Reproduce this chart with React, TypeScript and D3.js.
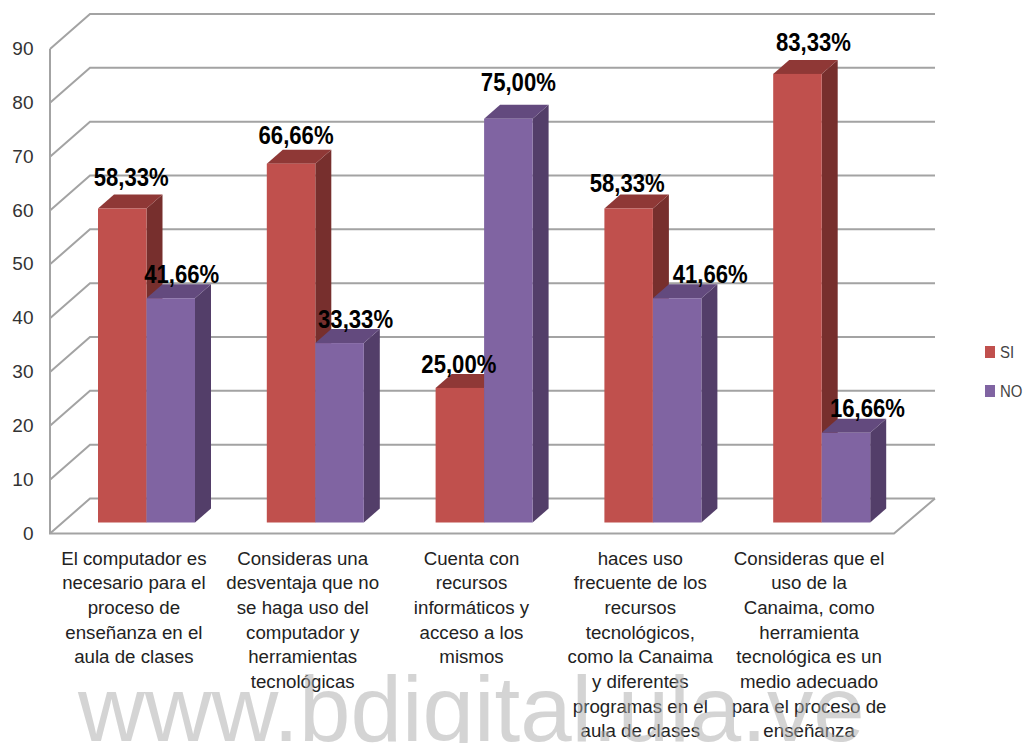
import React from 'react';
import * as d3 from 'd3';

const categories = [
  ['El computador es', 'necesario para el', 'proceso de', 'enseñanza en el', 'aula de clases'],
  ['Consideras una', 'desventaja que no', 'se haga uso del', 'computador y', 'herramientas', 'tecnológicas'],
  ['Cuenta con', 'recursos', 'informáticos y', 'acceso a los', 'mismos'],
  ['haces uso', 'frecuente de los', 'recursos', 'tecnológicos,', 'como la Canaima', 'y diferentes', 'programas en el', 'aula de clases'],
  ['Consideras que el', 'uso de la', 'Canaima, como', 'herramienta', 'tecnológica es un', 'medio adecuado', 'para el proceso de', 'enseñanza'],
];
const siValues = [58.33, 66.66, 25, 58.33, 83.33];
const noValues = [41.66, 33.33, 75, 41.66, 16.66];
const seriesNames = ['SI', 'NO'];
const ticks = [0, 10, 20, 30, 40, 50, 60, 70, 80, 90];

const palettes = [
  { front: '#C0504D', side: '#772F2D', top: '#8F3836' },
  { front: '#8064A2', side: '#533E69', top: '#634A7E' },
];
const GRID = '#A3A3A3';
const FONT = '"Liberation Sans", Arial, sans-serif';

// hand-placed data-label nudges of the original, per series then category
const labelNudgeX = [[9, 5, -1, -1.5, 16], [11, 16, 10, 33, 21.5]];
const labelNudgeY = [[22, 19, 14, 16, 22], [15, 15, 27, 15, 15]];

const fmt = (v: number) => v.toFixed(2).replace('.', ',') + '%';

export default function App() {
  const width = 1025;
  const height = 743;
  const x = d3.scaleBand<number>().domain(d3.range(5)).range([50, 894]);
  const y = d3.scaleLinear().domain([0, 90]).range([533.5, 49]);
  const wallDx = 40;
  const wallDy = 35;
  const barInsetX = 48;
  const barW = 48.5;
  const barFloorY = 11;
  const sideDx = 16;
  const sideDy = 14;
  const line = d3.line<[number, number]>();

  const bar = (cat: number, s: number, v: number) => {
    const x0 = (x(cat) as number) + barInsetX + s * barW;
    const x1 = x0 + barW;
    const yb = y(0) - barFloorY;
    const yt = y(v) - barFloorY;
    const p = palettes[s];
    return (
      <g key={`${cat}-${s}`}>
        <path d={line([[x1, yt], [x1 + sideDx, yt - sideDy], [x1 + sideDx, yb - sideDy], [x1, yb]]) + 'Z'} fill={p.side} />
        <path d={line([[x0, yt], [x0 + sideDx, yt - sideDy], [x1 + sideDx, yt - sideDy], [x1, yt]]) + 'Z'} fill={p.top} />
        <rect x={x0} y={yt} width={barW} height={yb - yt} fill={p.front} />
      </g>
    );
  };

  const label = (cat: number, s: number, v: number) => {
    const cx = (x(cat) as number) + barInsetX + s * barW + barW / 2 + labelNudgeX[s][cat];
    return (
      <text key={`l${cat}-${s}`} x={cx} y={y(v) - 11.5 - labelNudgeY[s][cat]} textAnchor="middle"
        textLength={75} lengthAdjust="spacingAndGlyphs"
        fontFamily={FONT} fontWeight="bold" fontSize={25} fill="#000">{fmt(v)}</text>
    );
  };

  return (
    <svg width={width} height={height} viewBox={`0 0 ${width} ${height}`}
      style={{ position: 'absolute', left: 0, top: 0, background: '#fff' }}>
      <g fill="none" stroke={GRID} strokeWidth={2}>
        {ticks.map((t) => (
          <path key={t} d={line([[50, y(t)], [50 + wallDx, y(t) - wallDy], [935, y(t) - wallDy]]) as string} />
        ))}
        <path d={line([[50, y(90)], [50, y(0)], [894, y(0)], [935, y(0) - wallDy]]) as string} />
      </g>
      {ticks.map((t) => (
        <text key={t} x={33.5} y={y(t) + 6} textAnchor="end" fontFamily={FONT} fontSize={19} fill="#333">{t}</text>
      ))}
      {d3.range(5).map((i) => (
        <g key={i}>
          {bar(i, 0, siValues[i])}
          {bar(i, 1, noValues[i])}
        </g>
      ))}
      {d3.range(5).map((i) => (
        <g key={i}>
          {label(i, 0, siValues[i])}
          {label(i, 1, noValues[i])}
        </g>
      ))}
      {categories.map((lines, i) => (
        <text key={i} textAnchor="middle" fontFamily={FONT} fontSize={18.7} fill="#222">
          {lines.map((l, j) => (
            <tspan key={j} x={(x(i) as number) + x.bandwidth() / 2 - 0.5} y={564.5 + j * 24.7}>{l}</tspan>
          ))}
        </text>
      ))}
      {seriesNames.map((n, i) => (
        <g key={n}>
          <rect x={985} y={346 + i * 39} width={10} height={12} fill={palettes[i].front} />
          <text transform={`translate(1000,${358 + i * 39}) scale(0.88,1)`} fontFamily={FONT} fontSize={17} fill="#444">{n}</text>
        </g>
      ))}
      <text x={78} y={741} fontFamily={FONT} fontSize={92.5} fill="#AAA" fillOpacity={0.5}>www.bdigital.ula.ve</text>
    </svg>
  );
}
